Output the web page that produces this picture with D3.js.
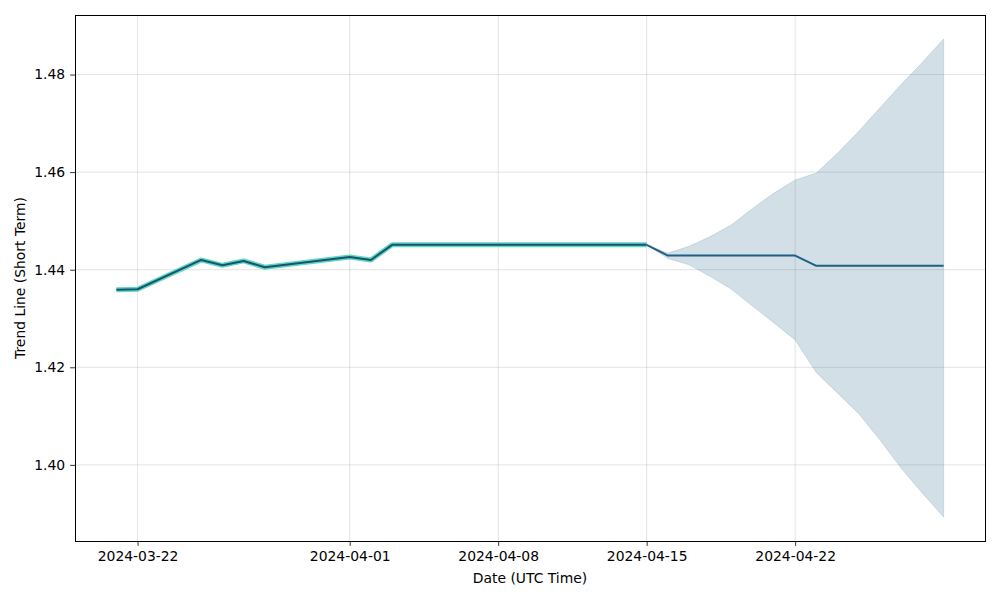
<!DOCTYPE html>
<html>
<head>
<meta charset="utf-8">
<script src="https://cdn.jsdelivr.net/npm/d3@7"></script>
<style>
  body { margin: 0; background: #fff; }
  svg { font-family: "DejaVu Sans", sans-serif; }
</style>
</head>
<body>
<svg id="chart" width="1000" height="600"></svg>
<script>
// ---- data ----
const histDates = ["2024-03-21","2024-03-22","2024-03-25","2024-03-26","2024-03-27","2024-03-28",
  "2024-04-01","2024-04-02","2024-04-03","2024-04-04","2024-04-05","2024-04-08","2024-04-09",
  "2024-04-10","2024-04-11","2024-04-12","2024-04-15"];
const histValues = [1.4359,1.4360,1.4420,1.4409,1.4418,1.4405,
  1.4426,1.4420,1.4451,1.4451,1.4451,1.4451,1.4451,
  1.4451,1.4451,1.4451,1.4451];

const fcDates = ["2024-04-15","2024-04-16","2024-04-17","2024-04-18","2024-04-19","2024-04-20",
  "2024-04-21","2024-04-22","2024-04-23","2024-04-24","2024-04-25","2024-04-26","2024-04-27",
  "2024-04-28","2024-04-29"];
const fcValues = [1.4451,1.4429,1.4429,1.4429,1.4429,1.4429,
  1.4429,1.4429,1.4408,1.4408,1.4408,1.4408,1.4408,
  1.4408,1.4408];
const fcUpper = [1.4451,1.4434,1.4448,1.4468,1.4492,1.4526,
  1.4557,1.4584,1.4598,1.4639,1.4684,1.4732,1.4780,
  1.4825,1.4873];
const fcLower = [1.4451,1.4423,1.4410,1.4386,1.4360,1.4325,
  1.4291,1.4256,1.4189,1.4147,1.4105,1.4051,1.3993,
  1.3942,1.3893];

const xTickLabels = ["2024-03-22","2024-04-01","2024-04-08","2024-04-15","2024-04-22"];
const yTickLabels = ["1.40","1.42","1.44","1.46","1.48"];

// ---- layout ----
const M = {left: 75, right: 985, top: 15, bottom: 541};
const parse = d3.utcParse("%Y-%m-%d");
const fontSize = 13.9;

const svg = d3.select("#chart");

const allDates = histDates.concat(fcDates).map(parse);
const xExt = d3.extent(allDates);
const xPad = (xExt[1] - xExt[0]) * 0.05;
const x = d3.scaleUtc()
  .domain([new Date(+xExt[0] - xPad), new Date(+xExt[1] + xPad)])
  .range([M.left, M.right]);

const yMin = d3.min(fcLower.concat(histValues));
const yMax = d3.max(fcUpper.concat(histValues));
const yPad = (yMax - yMin) * 0.05;
const y = d3.scaleLinear()
  .domain([yMin - yPad, yMax + yPad])
  .range([M.bottom, M.top]);

const xTicks = xTickLabels.map(parse);
const yTicks = yTickLabels.map(Number);

// grid
const grid = svg.append("g");
grid.selectAll("line.gx").data(xTicks).join("line")
  .attr("x1", d => x(d)).attr("x2", d => x(d))
  .attr("y1", M.top).attr("y2", M.bottom)
  .attr("stroke", "#b0b0b0").attr("stroke-opacity", 0.35).attr("stroke-width", 1);
grid.selectAll("line.gy").data(yTicks).join("line")
  .attr("y1", d => y(d)).attr("y2", d => y(d))
  .attr("x1", M.left).attr("x2", M.right)
  .attr("stroke", "#b0b0b0").attr("stroke-opacity", 0.35).attr("stroke-width", 1);

// band
const fc = fcDates.map((d, i) => ({date: parse(d), v: fcValues[i], lo: fcLower[i], hi: fcUpper[i]}));
const area = d3.area().x(d => x(d.date)).y0(d => y(d.lo)).y1(d => y(d.hi));
svg.append("path").datum(fc).attr("d", area)
  .attr("fill", "#1f5f82").attr("fill-opacity", 0.2)
  .attr("stroke", "#1f5f82").attr("stroke-opacity", 0.15).attr("stroke-width", 1);

// forecast line
const line = d3.line().x(d => x(d.date)).y(d => y(d.v));
svg.append("path").datum(fc).attr("d", line)
  .attr("fill", "none").attr("stroke", "#1d5f85").attr("stroke-width", 2)
  .attr("stroke-linejoin", "round");

// historical line
const hist = histDates.map((d, i) => ({date: parse(d), v: histValues[i]}));
svg.append("path").datum(hist).attr("d", line)
  .attr("fill", "none").attr("stroke", "#5cdabb").attr("stroke-width", 5)
  .attr("stroke-linejoin", "round");
svg.append("path").datum(hist).attr("d", line)
  .attr("fill", "none").attr("stroke", "#1e4f76").attr("stroke-width", 2)
  .attr("stroke-linejoin", "round");

// axes
const xAxis = d3.axisBottom(x).tickValues(xTicks).tickFormat(d3.utcFormat("%Y-%m-%d"))
  .tickSize(4.9).tickPadding(4.9).tickSizeOuter(0);
const gx = svg.append("g").attr("transform", `translate(0,${M.bottom})`).call(xAxis);
const yAxis = d3.axisLeft(y).tickValues(yTicks).tickFormat(d3.format(".2f"))
  .tickSize(4.9).tickPadding(4.9).tickSizeOuter(0);
const gy = svg.append("g").attr("transform", `translate(${M.left},0)`).call(yAxis);
[gx, gy].forEach(g => {
  g.select(".domain").remove();
  g.selectAll(".tick line").attr("stroke", "#000").attr("stroke-width", 0.8);
  g.selectAll(".tick text").attr("fill", "#000").attr("font-size", fontSize)
    .attr("font-family", "DejaVu Sans");
});

// frame
svg.append("rect").attr("x", M.left + 0.5).attr("y", M.top + 0.5)
  .attr("width", M.right - M.left).attr("height", M.bottom - M.top)
  .attr("fill", "none").attr("stroke", "#000").attr("stroke-width", 1)
  .attr("shape-rendering", "crispEdges");

// labels
svg.append("text").attr("x", (M.left + M.right) / 2).attr("y", 583)
  .attr("text-anchor", "middle").attr("font-size", fontSize).text("Date (UTC Time)");
svg.append("text").attr("transform", `translate(25,${(M.top + M.bottom) / 2}) rotate(-90)`)
  .attr("text-anchor", "middle").attr("font-size", fontSize).text("Trend Line (Short Term)");
</script>
</body>
</html>
